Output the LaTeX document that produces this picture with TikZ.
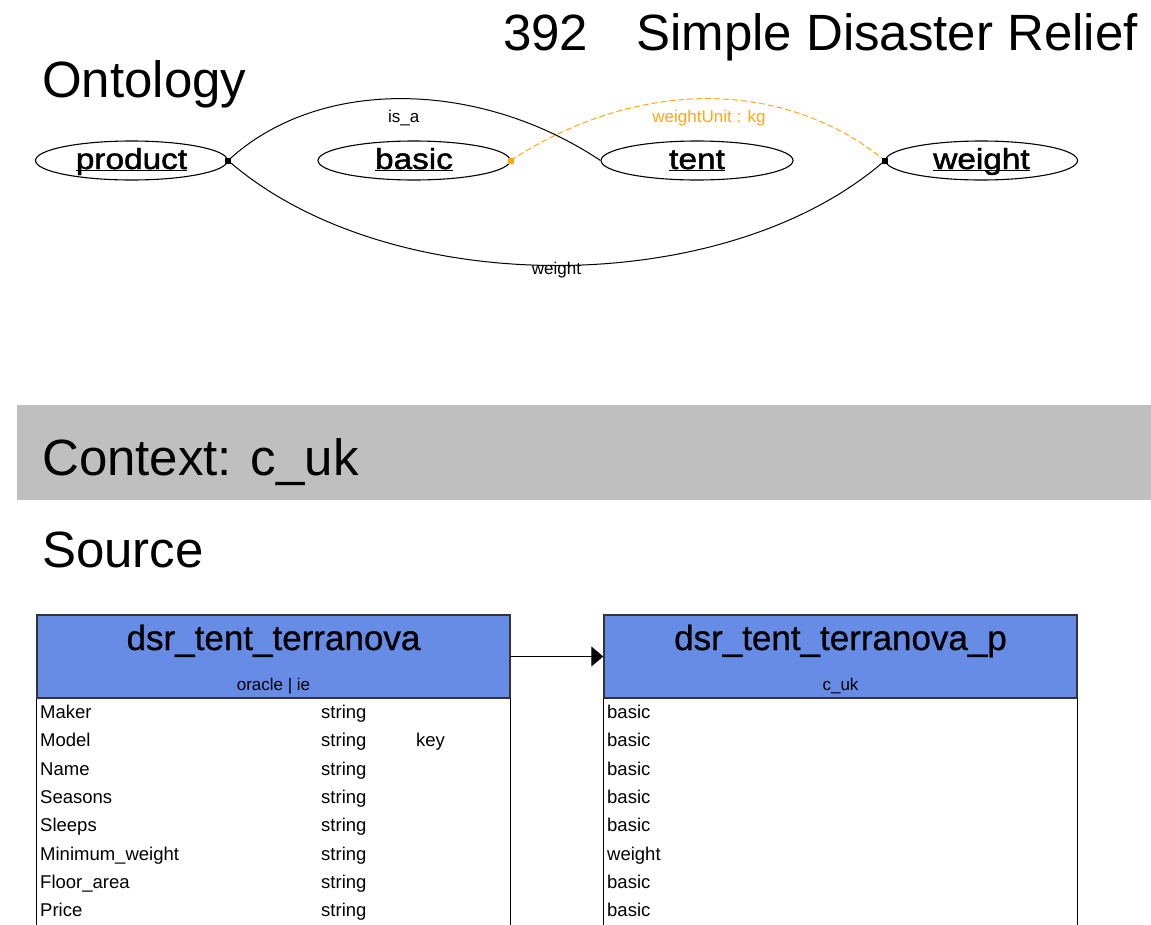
\documentclass[tikz,border=0pt]{standalone}
\usepackage{fontspec}
\usepackage{graphicx}
\setmainfont{Liberation Sans}
\newfontfamily\heavyfont[FakeBold=1.5]{Liberation Sans}
\newfontfamily\semifont[FakeBold=0.8]{Liberation Sans}
\usetikzlibrary{arrows.meta,shapes.geometric}
\definecolor{hdr_blue}{RGB}{102, 140, 230}
\definecolor{ctx_grey}{RGB}{191, 191, 191}
\definecolor{unit_orange}{RGB}{255, 168, 20}
\newcommand{\clsname}[1]{\scalebox{1.15}[1]{\underline{\smash{#1}}}}
\tikzstyle{big}=[inner sep=0pt,anchor=base west,font=\fontsize{51}{51}\selectfont]
\tikzstyle{cls}=[ellipse,draw=black,line width=1.1pt,minimum width=192pt,
  minimum height=39pt,inner sep=0pt,text height=19pt,text depth=2pt,
  font=\heavyfont\fontsize{29}{29}\selectfont]
\tikzstyle{lbl}=[inner sep=2pt,font=\fontsize{17}{17}\selectfont]
\tikzstyle{dot}=[rectangle,fill=black,inner sep=0pt,minimum size=6pt]
\tikzstyle{tblhead}=[rectangle,fill=hdr_blue,draw=black!80,line width=1.5pt,
  minimum width=473pt,minimum height=83pt,inner sep=0pt]
\tikzstyle{tbltitle}=[inner sep=0pt,anchor=base,font=\semifont\fontsize{35}{35}\selectfont]
\tikzstyle{tblsub}=[inner sep=0pt,anchor=base,font=\fontsize{17}{17}\selectfont]
\tikzstyle{row}=[inner sep=0pt,anchor=base west,font=\fontsize{18.5}{18.5}\selectfont]
\tikzstyle{none}=[]

\begin{document}
\begin{tikzpicture}[x=1pt,y=-1pt]
            \fill[white] (0,0) rectangle (1151,924);
            \useasboundingbox (0,0) rectangle (1151,924);
            % titles
            \node [style=big] (t0) at (503, 50) {392\hspace{48pt}Simple Disaster Relief};
            \node [style=big] (t1) at (42, 97) {Ontology};
            \node [fill=ctx_grey,minimum width=1134pt,minimum height=95pt,inner sep=0pt] (band) at (584, 452.5) {};
            \node [style=big] (t2) at (42, 475) {Context: c\_uk};
            \node [style=big] (t3) at (42, 567) {Source};
            % ontology
            \node [style=cls] (0) at (131.5, 160.5) {\clsname{product}};
            \node [style=cls] (1) at (414, 160.5) {\clsname{basic}};
            \node [style=cls] (2) at (697, 160.5) {\clsname{tent}};
            \node [style=cls] (3) at (981.5, 160.5) {\clsname{weight}};
            \draw [line width=1pt] (0.east) .. controls +(92,-85) and +(-120,-80) .. (2.west)
                node [style=lbl,midway,below,yshift=-9pt] {is\_a};
            \draw [line width=1pt] (0.east) .. controls +(160,140) and +(-160,140) .. (3.west)
                node [style=lbl,midway,yshift=-5pt] {weight};
            \draw [unit_orange,dash pattern=on 6pt off 3pt,line width=1pt] (1.east) .. controls +(130,-84) and +(-100,-81) .. (3.west)
                node [style=lbl,midway,below,yshift=-9pt,text=unit_orange] {weightUnit : kg};
            \node [style=dot] (4) at (0.east) {};
            \node [style=dot,fill=unit_orange] (5) at (1.east) {};
            \node [style=dot] (6) at (3.west) {};
            % source tables
            \node [style=tblhead] (10) at (273.5, 656.5) {};
            \node [style=tbltitle] (11) at (273.5, 650) {dsr\_tent\_terranova};
            \node [style=tblsub] (12) at (273.5, 690) {oracle | ie};
            \draw [line width=1pt] (10.south west) -- +(0,240);
            \draw [line width=1pt] (10.south east) -- +(0,240);
            \node [style=tblhead] (20) at (840.5, 656.5) {};
            \node [style=tbltitle] (21) at (840.5, 650) {dsr\_tent\_terranova\_p};
            \node [style=tblsub] (22) at (840.5, 690) {c\_uk};
            \draw [line width=1pt] (20.south west) -- +(0,240);
            \draw [line width=1pt] (20.south east) -- +(0,240);
            \draw [-{Triangle[length=12pt,width=20pt]},line width=1.2pt] (10.east) to (20.west);
            % rows
            \node [style=row] (30) at (40, 718) {Maker};
            \node [style=row] (31) at (40, 746) {Model};
            \node [style=row] (32) at (40, 775) {Name};
            \node [style=row] (33) at (40, 803) {Seasons};
            \node [style=row] (34) at (40, 831) {Sleeps};
            \node [style=row] (35) at (40, 860) {Minimum\_weight};
            \node [style=row] (36) at (40, 888) {Floor\_area};
            \node [style=row] (37) at (40, 916) {Price};
            \node [style=row] (40) at (321, 718) {string};
            \node [style=row] (41) at (321, 746) {string};
            \node [style=row] (42) at (321, 775) {string};
            \node [style=row] (43) at (321, 803) {string};
            \node [style=row] (44) at (321, 831) {string};
            \node [style=row] (45) at (321, 860) {string};
            \node [style=row] (46) at (321, 888) {string};
            \node [style=row] (47) at (321, 916) {string};
            \node [style=row] (48) at (416, 746) {key};
            \node [style=row] (50) at (607, 718) {basic};
            \node [style=row] (51) at (607, 746) {basic};
            \node [style=row] (52) at (607, 775) {basic};
            \node [style=row] (53) at (607, 803) {basic};
            \node [style=row] (54) at (607, 831) {basic};
            \node [style=row] (55) at (607, 860) {weight};
            \node [style=row] (56) at (607, 888) {basic};
            \node [style=row] (57) at (607, 916) {basic};
    \end{tikzpicture}
\end{document}
